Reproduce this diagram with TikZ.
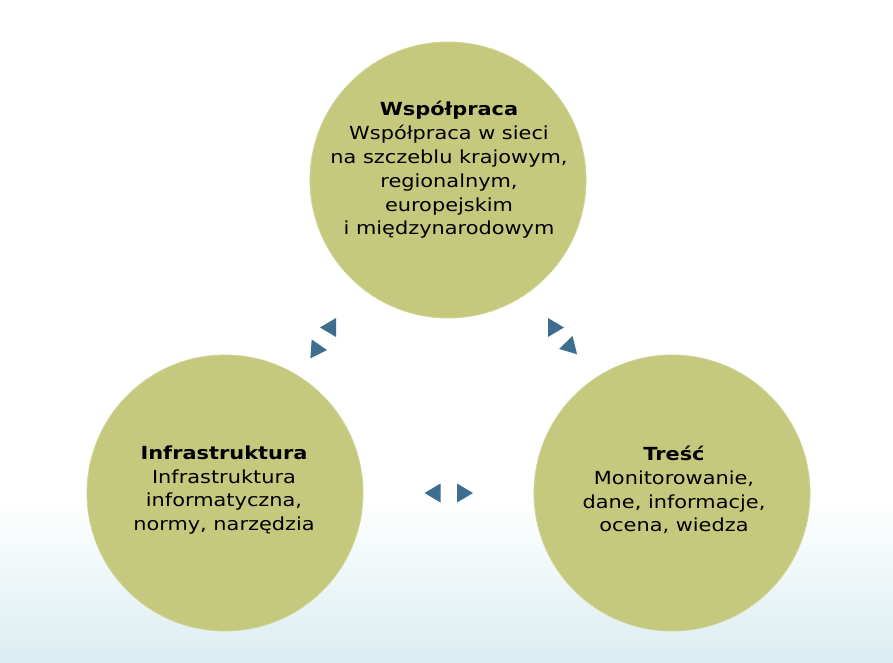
\documentclass[tikz,border=0pt]{standalone}
\usepackage{fontspec}
\setmainfont{DejaVu Sans}[FakeStretch=1.16]
\usepackage{xcolor}
\definecolor{olivefill}{RGB}{196,201,125}
\definecolor{tipblue}{RGB}{62,110,143}
\definecolor{bgblue}{RGB}{219,237,241}

\begin{document}
\begin{tikzpicture}[x=1pt,y=-1pt,
  bubble/.style={circle,fill=olivefill,draw=olivefill!80!white,line width=0.8pt,minimum size=276pt,inner sep=0pt},
  blurb/.style={align=center,font=\fontsize{18}{23.8}\selectfont},
  tip/.style={fill=tipblue}]
  \useasboundingbox (0,0) rectangle (893,663);
  \fill[white] (0,0) rectangle (893,500);
  \shade[top color=white,bottom color=bgblue] (0,500) rectangle (893,663);
  \node[bubble] (wsp) at (448,180) {};
  \node[bubble] (infra) at (225,493) {};
  \node[bubble] (tresc) at (672,493) {};
  \node[blurb] (wsptxt) at (449,170) {\textbf{Współpraca}\\Współpraca w sieci\\na szczeblu krajowym,\\regionalnym,\\europejskim\\i międzynarodowym};
  \node[blurb] (infratxt) at (224,490) {\textbf{Infrastruktura}\\Infrastruktura\\informatyczna,\\normy, narzędzia};
  \node[blurb] (tresctxt) at (674,490) {\textbf{Treść}\\Monitorowanie,\\dane, informacje,\\ocena, wiedza};
  \foreach \cx/\cy/\ang in {328/327.5/180, 319/349.5/-4, 556/327.5/0, 567/347/194, 432.5/493/180, 465/493/0}
    \fill[tip,shift={(\cx,\cy)},rotate=\ang] (8,0) -- (-8,9.5) -- (-8,-9.5) -- cycle;
\end{tikzpicture}
\end{document}
